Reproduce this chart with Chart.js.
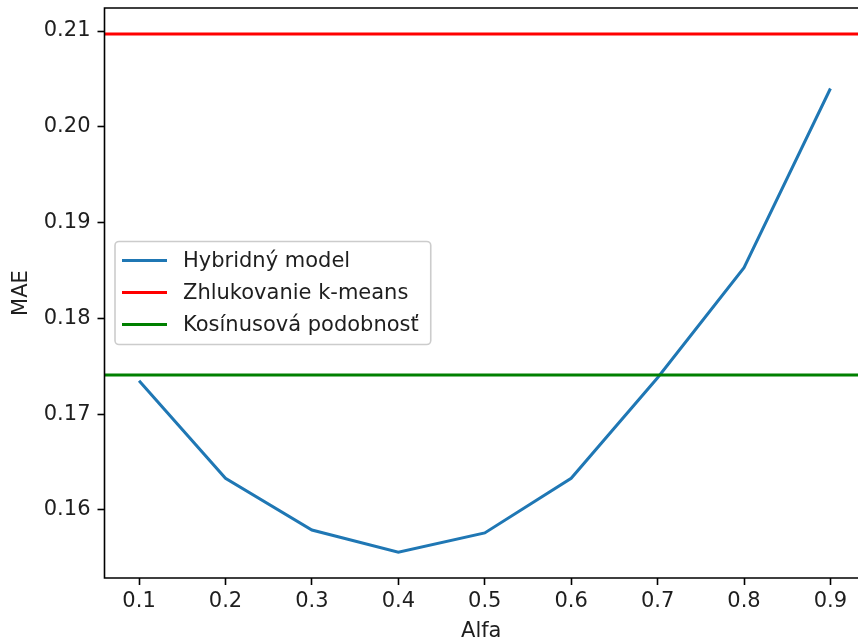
<!DOCTYPE html>
<html>
<head>
<meta charset="utf-8">
<script src="https://cdn.jsdelivr.net/npm/chart.js@4.4.1/dist/chart.umd.min.js"></script>
<style>
html, body { margin: 0; padding: 0; background: #fff; overflow: hidden; }
canvas { display: block; }
</style>
</head>
<body>
<canvas id="myChart" width="858" height="644"></canvas>
<script>
// values
const alphas = [0.1, 0.2, 0.3, 0.4, 0.5, 0.6, 0.7, 0.8, 0.9];
const hybridMae = [0.1735, 0.1633, 0.1579, 0.1556, 0.1576, 0.1633, 0.1738, 0.1853, 0.2040];
const kmeansMae = 0.2097;
const cosineMae = 0.1741;
const seriesLabels = ['Hybridný model', 'Zhlukovanie k-means', 'Kosínusová podobnosť'];
const xTicks = [0.1, 0.2, 0.3, 0.4, 0.5, 0.6, 0.7, 0.8, 0.9];
const yTicks = [0.16, 0.17, 0.18, 0.19, 0.20, 0.21];

// same 5% autoscale margins as matplotlib
const xSpan = alphas[alphas.length - 1] - alphas[0];
const xMin = alphas[0] - 0.05 * xSpan;
const xMax = alphas[alphas.length - 1] + 0.05 * xSpan;
// the original figure is cropped on the right, just short of the right spine
const xMaxShown = xMin + (xMax - xMin) * (858 - 104.5) / (865 - 104.5);
const allY = hybridMae.concat([kmeansMae, cosineMae]);
const yLo = Math.min(...allY), yHi = Math.max(...allY);
const yMin = yLo - 0.05 * (yHi - yLo);
const yMax = yHi + 0.05 * (yHi - yLo);

const font = { family: 'DejaVu Sans', size: 21 };
const textColor = '#1e1e1e';

// left/top/bottom spines + legend at "center left"
const frameAndLegend = {
  id: 'frameAndLegend',
  afterDatasetsDraw(chart) {
    const { ctx, chartArea: a } = chart;
    ctx.save();
    ctx.strokeStyle = '#000';
    ctx.lineWidth = 1.6;
    ctx.beginPath();
    ctx.moveTo(a.right + 2, a.top);
    ctx.lineTo(a.left, a.top);
    ctx.lineTo(a.left, a.bottom);
    ctx.lineTo(a.right + 2, a.bottom);
    ctx.stroke();

    ctx.font = '21px "DejaVu Sans"';
    const sets = chart.data.datasets;
    const textW = Math.max(...sets.map(d => ctx.measureText(d.label).width));
    const rowH = 32, handle = 45;
    const w = 7 + handle + 16 + textW + 12;
    const h = 103;
    const x = a.left + 10.5;
    const y = (a.top + a.bottom) / 2 - h / 2;
    const r = 4;
    ctx.beginPath();
    ctx.moveTo(x + r, y);
    ctx.arcTo(x + w, y, x + w, y + h, r);
    ctx.arcTo(x + w, y + h, x, y + h, r);
    ctx.arcTo(x, y + h, x, y, r);
    ctx.arcTo(x, y, x + w, y, r);
    ctx.closePath();
    ctx.fillStyle = 'rgba(255,255,255,0.8)';
    ctx.fill();
    ctx.strokeStyle = '#cccccc';
    ctx.lineWidth = 1.6;
    ctx.stroke();

    ctx.textBaseline = 'middle';
    ctx.textAlign = 'left';
    sets.forEach((d, i) => {
      const ry = y + 19 + i * rowH;
      ctx.beginPath();
      ctx.moveTo(x + 7, ry);
      ctx.lineTo(x + 7 + handle, ry);
      ctx.strokeStyle = d.borderColor;
      ctx.lineWidth = 3;
      ctx.stroke();
      ctx.fillStyle = textColor;
      ctx.fillText(d.label, x + 7 + handle + 16, ry + 1);
    });
    ctx.restore();
  }
};

const ctx = document.getElementById('myChart').getContext('2d');
const chart = new Chart(ctx, {
  type: 'line',
  data: {
    datasets: [
      {
        label: seriesLabels[0],
        data: alphas.map((a, i) => ({ x: a, y: hybridMae[i] })),
        borderColor: '#1f77b4',
        borderWidth: 3,
        order: 3
      },
      {
        label: seriesLabels[1],
        data: [{ x: xMin, y: kmeansMae }, { x: xMax, y: kmeansMae }],
        borderColor: '#ff0000',
        borderWidth: 3,
        order: 2
      },
      {
        label: seriesLabels[2],
        data: [{ x: xMin, y: cosineMae }, { x: xMax, y: cosineMae }],
        borderColor: '#008000',
        borderWidth: 3,
        order: 1
      }
    ]
  },
  options: {
    responsive: false,
    animation: false,
    layout: { padding: { top: 8, right: 0, left: 0, bottom: 0 } },
    elements: { point: { radius: 0 }, line: { tension: 0 } },
    plugins: { legend: { display: false }, tooltip: { enabled: false } },
    scales: {
      x: {
        type: 'linear',
        min: xMin,
        max: xMaxShown,
        afterBuildTicks: s => { s.ticks = xTicks.map(v => ({ value: v })); },
        afterFit: s => { s.height = 66; s.paddingLeft = 0; s.paddingRight = 0; },
        grid: { drawOnChartArea: false, drawTicks: true, tickLength: 7, tickWidth: 1.6, tickColor: '#000' },
        border: { display: false },
        ticks: { padding: 4, color: textColor, font: font, maxRotation: 0, autoSkip: false, callback: v => v.toFixed(1) },
        title: { display: true, text: 'Alfa', color: textColor, font: font, padding: { top: 0, bottom: 0 } }
      },
      y: {
        type: 'linear',
        min: yMin,
        max: yMax,
        afterBuildTicks: s => { s.ticks = yTicks.map(v => ({ value: v })); },
        afterFit: s => { s.width = 104.5; s.paddingTop = 0; s.paddingBottom = 0; },
        grid: { drawOnChartArea: false, drawTicks: true, tickLength: 7, tickWidth: 1.6, tickColor: '#000' },
        border: { display: false },
        ticks: { padding: 7, color: textColor, font: font, autoSkip: false, callback: v => v.toFixed(2) },
        title: { display: true, text: 'MAE', color: textColor, font: font, padding: { top: 9, bottom: 0 } }
      }
    }
  },
  plugins: [frameAndLegend]
});
</script>
</body>
</html>
